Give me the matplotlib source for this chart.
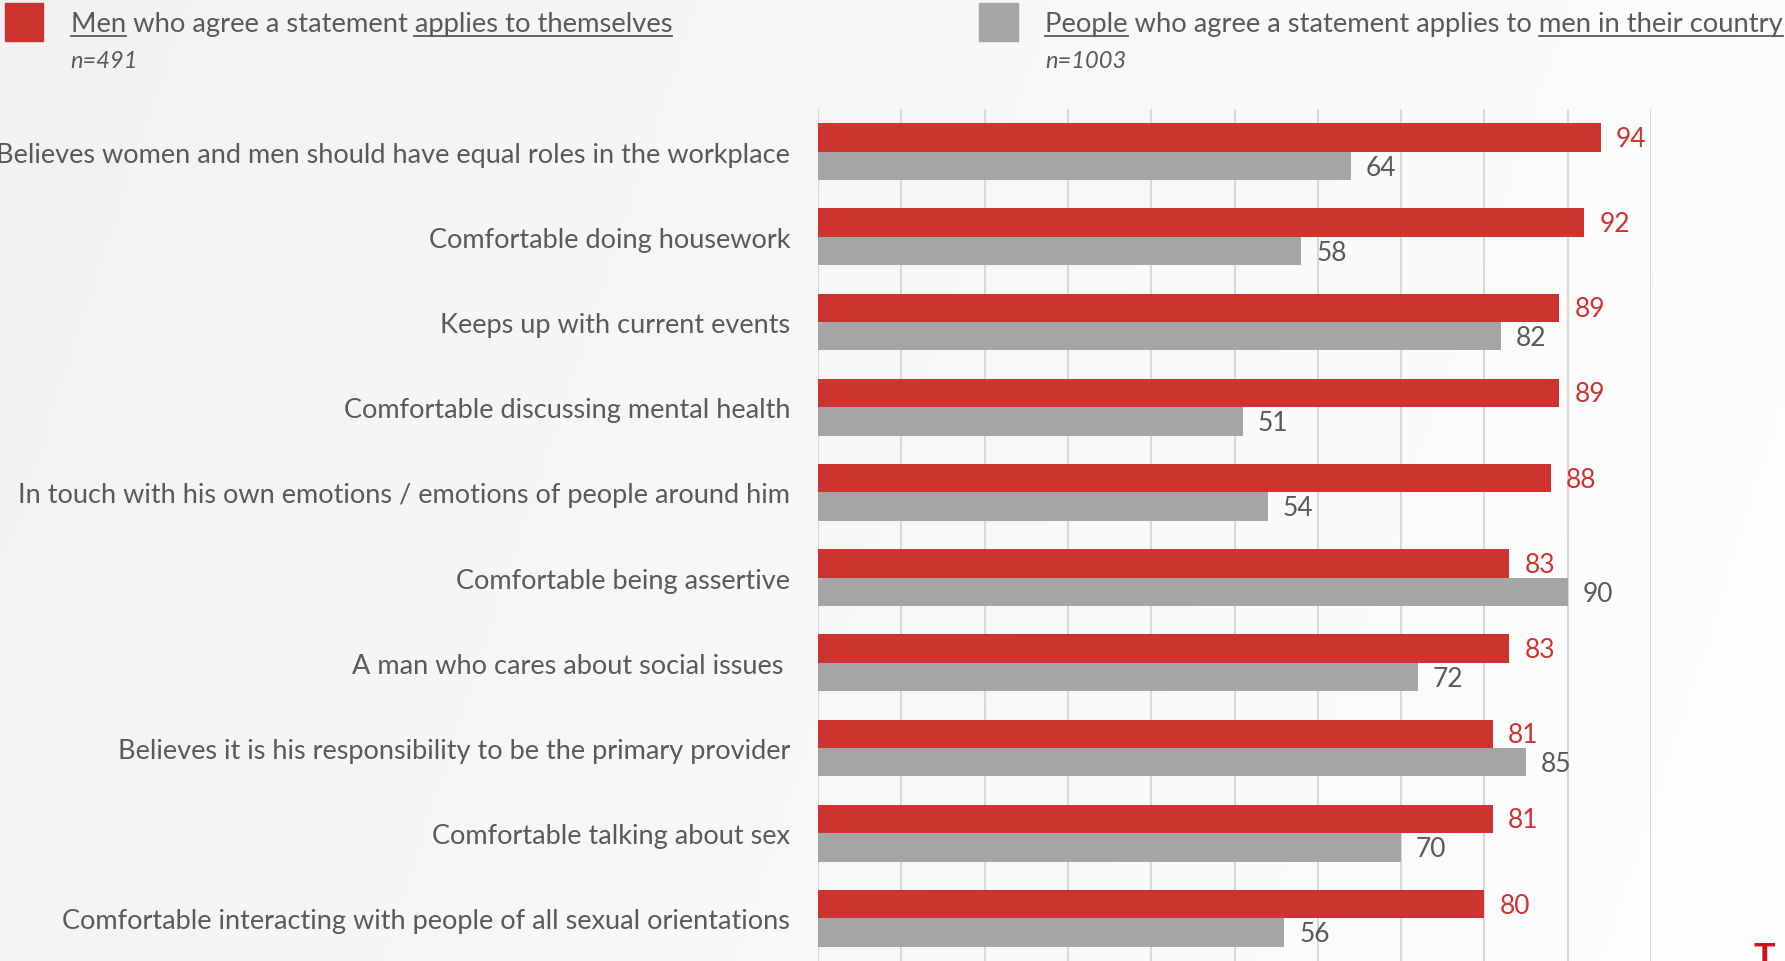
import numpy as np
import matplotlib
import matplotlib.pyplot as plt
from matplotlib.colors import LinearSegmentedColormap

matplotlib.use('Agg')

# data
statements = [
    'Believes women and men should have equal roles in the workplace',
    'Comfortable doing housework',
    'Keeps up with current events',
    'Comfortable discussing mental health',
    'In touch with his own emotions / emotions of people around him',
    'Comfortable being assertive',
    'A man who cares about social issues ',
    'Believes it is his responsibility to be the primary provider',
    'Comfortable talking about sex',
    'Comfortable interacting with people of all sexual orientations',
]
men_self = [94, 92, 89, 89, 88, 83, 83, 81, 81, 80]
people_men = [64, 58, 82, 51, 54, 90, 72, 85, 70, 56]

RED = '#CD3430'
GREY = '#A5A5A5'
TEXT = '#595959'
W, H = 1785, 962

plt.rcParams['font.family'] = ['Lato', 'DejaVu Sans']

fig = plt.figure(figsize=(W / 100, H / 100), dpi=100)

# soft background gradient
bg = fig.add_axes([0, 0, 1, 1], zorder=-10)
gx, gy = np.meshgrid(np.linspace(0, 1, 300), np.linspace(0, 1, 160))
bg.imshow(gx * 0.85 + gy * 0.15, cmap=LinearSegmentedColormap.from_list('bg', ['#F2F2F2', '#FEFEFE']),
          aspect='auto', extent=[0, 1, 0, 1])
bg.axis('off')

ax = fig.add_axes([818 / W, 0, (1651 - 818) / W, 1 - 110 / H])
ax.set_facecolor('none')

pos = np.arange(len(statements))
bh = 0.334
red_bars = ax.barh(pos - bh / 2, men_self, height=bh, color=RED, zorder=3)
grey_bars = ax.barh(pos + bh / 2, people_men, height=bh, color=GREY, zorder=3)

for bar, v in zip(red_bars, men_self):
    ax.text(v + 1.8, bar.get_y() + bar.get_height() / 2 + 0.01, f'{v}', color=RED, fontsize=19,
            va='center', ha='left')
for bar, v in zip(grey_bars, people_men):
    ax.text(v + 1.8, bar.get_y() + bar.get_height() / 2 + 0.015, f'{v}', color=TEXT, fontsize=19,
            va='center', ha='left')

ax.set_xlim(0, 100)
ax.set_ylim(len(statements) - 0.5, -0.5)
ax.set_xticks(np.arange(0, 101, 10))
ax.xaxis.grid(True, color='#D9D9D9', linewidth=1.5, zorder=0)
ax.tick_params(axis='x', length=0, labelbottom=False)
ax.set_yticks(pos)
ax.set_yticklabels(statements, fontsize=19.5, color=TEXT)
ax.tick_params(axis='y', length=0, pad=20)
for s in ax.spines.values():
    s.set_visible(False)


def px(x, y):
    return x / W, 1 - y / H


renderer = fig.canvas.get_renderer()


def text_width(s, **kw):
    t = fig.text(0, 0, s, **kw)
    w = t.get_window_extent(renderer).width
    t.remove()
    return w


def underlined(x, y, parts, **kw):
    # parts: list of (string, underline?)
    full = ''.join(p for p, _ in parts)
    fig.text(*px(x, y), full, va='baseline', ha='left', **kw)
    prefix = ''
    for p, u in parts:
        if u:
            x0 = x + text_width(prefix + 'x', **kw) - text_width('x', **kw) if prefix else x
            x1 = x0 + text_width(p, **kw)
            fig.add_artist(plt.Line2D([x0 / W, x1 / W], [1 - (y + 5) / H] * 2, color=TEXT, lw=1.3))
        prefix += p


leg_kw = dict(fontsize=19.7, color=TEXT)
fig.add_artist(plt.Rectangle(px(4.5, 42), 38.5 / W, 38.5 / H, color=RED))
underlined(70.6, 32, [('Men', True), (' who agree a statement ', False), ('applies to themselves', True)],
           **leg_kw)
fig.text(*px(70.6, 68), 'n=491', style='italic', fontsize=17, color=TEXT, va='baseline')

fig.add_artist(plt.Rectangle(px(979, 42), 38.5 / W, 38.5 / H, color=GREY))
underlined(1045, 32, [('People', True), (' who agree a statement applies to ', False),
                      ('men in their country', True)], **leg_kw)
fig.text(*px(1045, 68), 'n=1003', style='italic', fontsize=17, color=TEXT, va='baseline')

# logo fragment at the bottom right corner
fig.text(*px(1764, 942), 'T', color='#D0101B', fontsize=26, fontweight='bold', ha='center', va='top')

fig.savefig('out.png', dpi=100)
